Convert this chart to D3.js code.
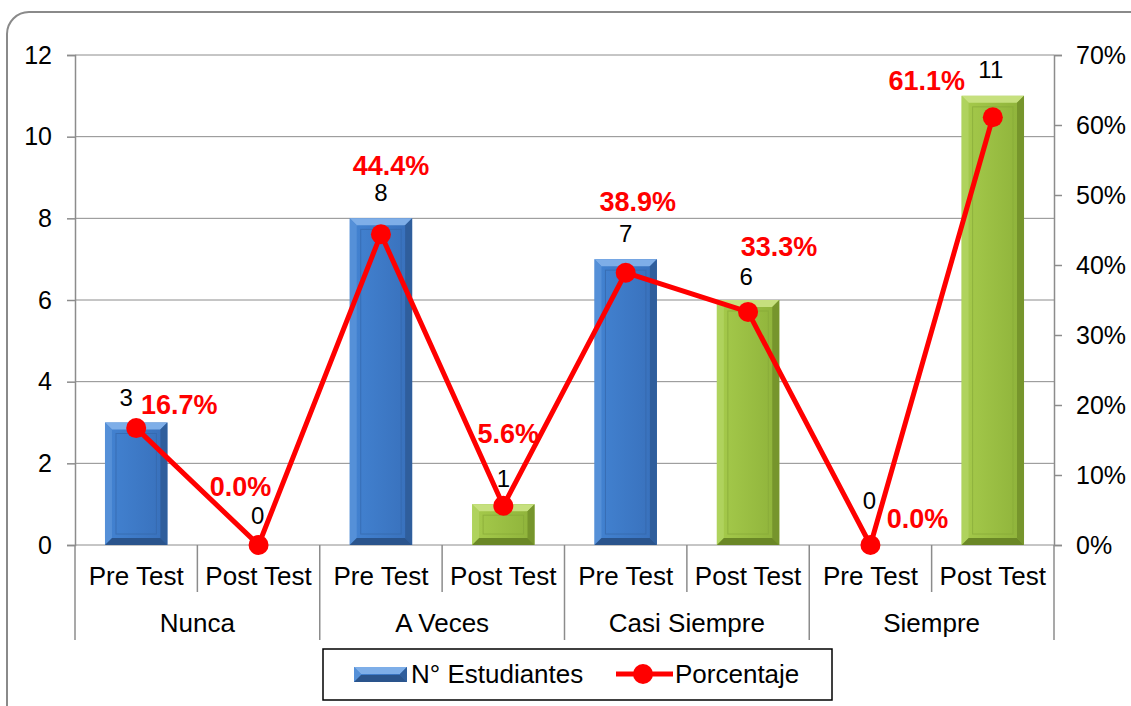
<!DOCTYPE html>
<html>
<head>
<meta charset="utf-8">
<title>Estudiantes</title>
<script src="https://d3js.org/d3.v7.min.js"></script>
<style>
  body { margin: 0; background: #fff; font-family: "Liberation Sans", Arial, sans-serif; }
  svg text { font-family: "Liberation Sans", Arial, sans-serif; }
</style>
</head>
<body>
<script>
// data
var groups = ["Nunca", "A Veces", "Casi Siempre", "Siempre"];
var tests = ["Pre Test", "Post Test"];
var students = [3, 0, 8, 1, 7, 6, 0, 11];
var percent = [16.7, 0.0, 44.4, 5.6, 38.9, 33.3, 0.0, 61.1];
var leftTicks = [0, 2, 4, 6, 8, 10, 12];
var rightTicks = [0, 10, 20, 30, 40, 50, 60, 70];

// label nudges (px) so they sit like in the original
var pctNudge = [[43, -14], [-18, -49], [10, -59], [5, -63], [12, -62], [31, -56], [47, -17], [-66, -27]];
var numNudge = [[-10, -17], [-1, -21], [0, -17], [0, -17], [0, -17], [-2, -15], [-1, -36], [-2, -18]];

var W = 1131, H = 706;
var margin = { top: 55, right: 77, bottom: 161, left: 75 };
var width = W - margin.left - margin.right,
    height = H - margin.top - margin.bottom;

var svg = d3.select("body").append("svg")
    .attr("width", W).attr("height", H);

// outer rounded frame
svg.append("rect")
    .attr("x", 7).attr("y", 12)
    .attr("width", 1150).attr("height", 720)
    .attr("rx", 22).attr("ry", 22)
    .attr("fill", "#fff").attr("stroke", "#8a8a8a").attr("stroke-width", 2);

var defs = svg.append("defs");
function grad(id, c1, c2) {
    var g = defs.append("linearGradient").attr("id", id)
        .attr("x1", "0%").attr("y1", "0%").attr("x2", "100%").attr("y2", "0%");
    g.append("stop").attr("offset", "0%").attr("stop-color", c1);
    g.append("stop").attr("offset", "100%").attr("stop-color", c2);
}
grad("blueFace", "#4383d2", "#3870bb");
grad("greenFace", "#a6cb4c", "#8eb23a");

var palette = {
    blue: { face: "url(#blueFace)", top: "#7eaee8", left: "#5a93da", right: "#2f5e9c", bottom: "#2a548c", line: "#3567aa" },
    green: { face: "url(#greenFace)", top: "#c6e07e", left: "#b2d462", right: "#76952c", bottom: "#6a8726", line: "#86a838" }
};

var g = svg.append("g").attr("transform", "translate(" + margin.left + "," + margin.top + ")");

var items = [];
groups.forEach(function (gr, i) {
    tests.forEach(function (t, j) {
        var k = i * 2 + j;
        items.push({ key: k, group: gr, test: t, n: students[k], p: percent[k] });
    });
});

var x = d3.scaleBand().domain(items.map(function (d) { return d.key; }))
    .range([0, width]).paddingInner(0.49).paddingOuter(0.245);
var xStep = width / items.length;
var y = d3.scaleLinear().domain([0, 12]).range([height, 0]);
var y2 = d3.scaleLinear().domain([0, 70]).range([height, 0]);

// gridlines
g.append("g").selectAll("line").data(leftTicks).join("line")
    .attr("x1", 0).attr("x2", width)
    .attr("y1", function (d) { return y(d); }).attr("y2", function (d) { return y(d); })
    .attr("stroke", "#8c8c8c").attr("stroke-width", 1);

// left axis
var yAxis = g.append("g").call(d3.axisLeft(y).tickValues(leftTicks).tickSize(8).tickPadding(15));
// right axis
var yAxis2 = g.append("g").attr("transform", "translate(" + width + ",0)")
    .call(d3.axisRight(y2).tickValues(rightTicks).tickSize(8).tickPadding(14)
        .tickFormat(function (d) { return d + "%"; }));
[yAxis, yAxis2].forEach(function (a) {
    a.select(".domain").attr("stroke", "#8c8c8c").attr("stroke-width", 1.5);
    a.selectAll(".tick line").attr("stroke", "#8c8c8c").attr("stroke-width", 1.5);
    a.selectAll(".tick text").attr("font-size", 25).attr("fill", "#000");
});

// category axis: sub labels and separators
var cat = g.append("g").attr("transform", "translate(0," + height + ")");
cat.selectAll("line.sub").data(d3.range(items.length + 1)).join("line")
    .attr("class", "sub")
    .attr("x1", function (d) { return d * xStep; }).attr("x2", function (d) { return d * xStep; })
    .attr("y1", 0)
    .attr("y2", function (d) { return d % 2 === 0 ? 95 : 47; })
    .attr("stroke", "#8c8c8c").attr("stroke-width", 1.5);
cat.selectAll("text.sub").data(items).join("text")
    .attr("class", "sub")
    .attr("x", function (d) { return x(d.key) + x.bandwidth() / 2; })
    .attr("y", 40)
    .attr("text-anchor", "middle").attr("font-size", 26)
    .text(function (d) { return d.test; });
cat.selectAll("text.grp").data(groups).join("text")
    .attr("class", "grp")
    .attr("x", function (d, i) { return (i * 2 + 1) * xStep; })
    .attr("y", 87)
    .attr("text-anchor", "middle").attr("font-size", 26)
    .text(function (d) { return d; });

// bevelled bar
function bevelBar(sel, x0, y0, w, h, c) {
    var b = Math.min(7, h / 2, w / 2);
    sel.append("rect").attr("x", x0).attr("y", y0).attr("width", w).attr("height", h).attr("fill", c.face);
    sel.append("polygon").attr("fill", c.top)
        .attr("points", [[x0, y0], [x0 + w, y0], [x0 + w - b, y0 + b], [x0 + b, y0 + b]].join(" "));
    sel.append("polygon").attr("fill", c.left).attr("opacity", 0.8)
        .attr("points", [[x0, y0], [x0 + b, y0 + b], [x0 + b, y0 + h - b], [x0, y0 + h]].join(" "));
    sel.append("polygon").attr("fill", c.right)
        .attr("points", [[x0 + w, y0], [x0 + w, y0 + h], [x0 + w - b, y0 + h - b], [x0 + w - b, y0 + b]].join(" "));
    sel.append("polygon").attr("fill", c.bottom)
        .attr("points", [[x0, y0 + h], [x0 + b, y0 + h - b], [x0 + w - b, y0 + h - b], [x0 + w, y0 + h]].join(" "));
    if (h > 2 * b + 4) {
        sel.append("rect").attr("x", x0 + b + 4).attr("y", y0 + b + 4)
            .attr("width", w - 2 * b - 8).attr("height", Math.max(0, h - 2 * b - 8))
            .attr("fill", "none").attr("stroke", c.line).attr("stroke-width", 1).attr("opacity", 0.7);
    }
}

var bars = g.append("g");
items.forEach(function (d) {
    if (d.n <= 0) return;
    var c = d.test === "Pre Test" ? palette.blue : palette.green;
    bevelBar(bars.append("g"), x(d.key), y(d.n), x.bandwidth(), y(0) - y(d.n), c);
});

var cx = function (d) { return x(d.key) + x.bandwidth() / 2; };

// bar value labels
g.append("g").selectAll("text").data(items).join("text")
    .attr("x", function (d) { return cx(d) + numNudge[d.key][0]; })
    .attr("y", function (d) { return y(d.n) + numNudge[d.key][1]; })
    .attr("text-anchor", "middle").attr("font-size", 24).attr("fill", "#000")
    .text(function (d) { return d.n; });

// percentage line
var line = d3.line().x(cx).y(function (d) { return y2(d.p); });
g.append("path").datum(items).attr("d", line)
    .attr("fill", "none").attr("stroke", "#ff0000").attr("stroke-width", 5)
    .attr("stroke-linejoin", "round");
g.append("g").selectAll("circle").data(items).join("circle")
    .attr("cx", cx).attr("cy", function (d) { return y2(d.p); })
    .attr("r", 10).attr("fill", "#ff0000");

// percentage labels
g.append("g").selectAll("text").data(items).join("text")
    .attr("x", function (d) { return cx(d) + pctNudge[d.key][0]; })
    .attr("y", function (d) { return y2(d.p) + pctNudge[d.key][1]; })
    .attr("text-anchor", "middle").attr("font-size", 27).attr("font-weight", "bold")
    .attr("fill", "#ff0000")
    .text(function (d) { return d.p.toFixed(1) + "%"; });

// legend
var lg = svg.append("g").attr("transform", "translate(323,649)");
lg.append("rect").attr("width", 509).attr("height", 51)
    .attr("fill", "#fff").attr("stroke", "#000").attr("stroke-width", 1.5);
bevelBar(lg.append("g"), 31, 18, 53, 15, palette.blue);
lg.append("text").attr("x", 88).attr("y", 34).attr("font-size", 26).text("N° Estudiantes");
lg.append("line").attr("x1", 293).attr("x2", 350).attr("y1", 25).attr("y2", 25)
    .attr("stroke", "#ff0000").attr("stroke-width", 5);
lg.append("circle").attr("cx", 320).attr("cy", 25).attr("r", 10).attr("fill", "#ff0000");
lg.append("text").attr("x", 352).attr("y", 34).attr("font-size", 26).text("Porcentaje");
</script>
</body>
</html>
